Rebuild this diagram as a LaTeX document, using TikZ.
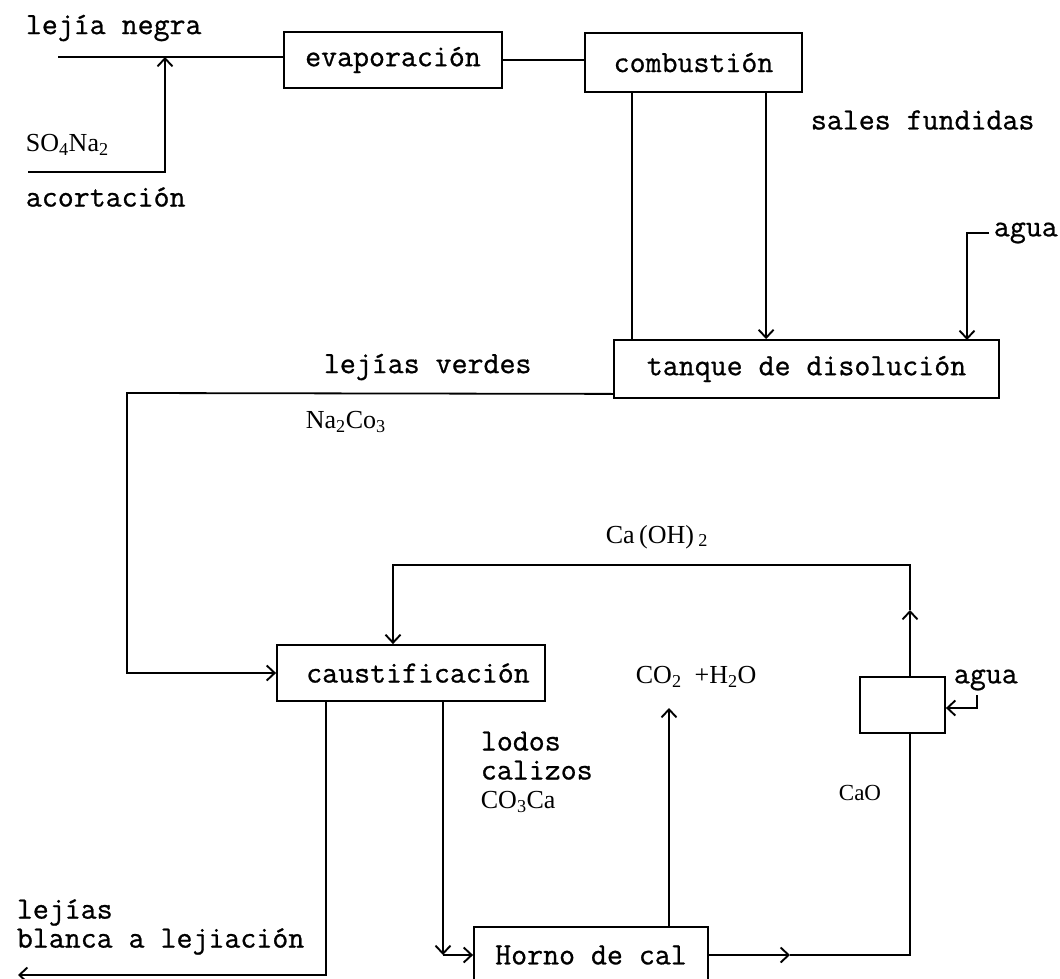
\documentclass[tikz,border=0pt]{standalone}
\usepackage{fontspec}
\setmainfont{Liberation Serif}
\newfontfamily\tw{Latin Modern Mono}[FakeBold=0.8]
\usetikzlibrary{arrows.meta,calc}
\begin{document}
\begin{tikzpicture}[x=1pt,y=-1pt,line width=1.8pt,
  box/.style={draw, inner sep=0pt, font=\fontsize{31}{27}\selectfont\tw},
  lbl/.style={anchor=west, inner sep=0pt, align=left, font=\fontsize{31}{29}\selectfont\tw},
  chem/.style={anchor=west, inner sep=0pt, font=\fontsize{26}{28}\selectfont},
  arr/.style={-{Straight Barb[length=8pt,width=15pt,line width=1.9pt]}},
]
\useasboundingbox (0,0) rectangle (1060,979);

% boxes
\node[box, minimum width=218pt, minimum height=56pt] (evap) at (393,60) {evaporación};
\node[box, minimum width=217pt, minimum height=59pt] (comb) at (693.5,62.5) {combustión};
\node[box, minimum width=385pt, minimum height=58pt] (tanque) at (806.5,369) {tanque de disolución};
\node[box, minimum width=268pt, minimum height=56pt] (caust) at (411,673) {\hspace*{14pt}caustificación};
\node[box, minimum width=85pt, minimum height=56pt] (small) at (902.5,705) {};
\node[box, minimum width=234pt, minimum height=56pt] (horno) at (591,955) {Horno de cal};

% labels
\node[lbl] (ln) at (25,28) {lejía negra};
\node[chem] (so4) at (25,145) {SO\textsubscript{4}Na\textsubscript{2}};
\node[lbl] (acort) at (25,197) {acortación};
\node[lbl] (sales) at (810,120) {sales fundidas};
\node[lbl] (agua1) at (993,233) {agua};
\node[lbl] (lverdes) at (323,367) {lejías verdes};
\node[chem] (na2) at (305,422) {Na\textsubscript{2}Co\textsubscript{3}};
\node[chem] (caoh) at (605,537) {Ca\,(OH)\,\textsubscript{2}};
\node[chem] (co2) at (635,677) {CO\textsubscript{2}\ \ +H\textsubscript{2}O};
\node[lbl] (agua2) at (953,680) {agua};
\node[lbl] (lodos) at (480,772) {lodos\\calizos\\{\rmfamily\fontsize{26}{28}\selectfont CO\textsubscript{3}Ca}};
\node[chem, font=\fontsize{23}{26}\selectfont] (cao) at (838,793) {CaO};
\node[lbl] (lej) at (16,927) {lejías\\blanca a lejiación};

% coordinates
\coordinate (lnstart) at (58,57);
\coordinate (sostart) at (28,172);
\coordinate (sotip) at (165,57);
\coordinate (c1) at ([xshift=48pt]comb.south west);
\coordinate (c2) at ([xshift=182pt]comb.south west);
\coordinate (a1) at (967,340);
\coordinate (lvs) at ([yshift=5pt]tanque.south west);
\coordinate (lv) at (127,393);
\coordinate (sn) at ([xshift=7.5pt]small.north);
\coordinate (m1) at (910,610);
\coordinate (chtop) at (910,565);
\coordinate (cn) at ([xshift=-18pt]caust.north);
\coordinate (cw) at ([xshift=-85pt]caust.south);
\coordinate (lbend) at (18,975);
\coordinate (ce) at ([xshift=32pt]caust.south);
\coordinate (hc) at (443,955);
\coordinate (ht) at ([xshift=78pt]horno.north);
\coordinate (co2tip) at (669,708);
\coordinate (hm) at (790,955);
\coordinate (sb) at ([xshift=7.5pt]small.south);
\coordinate (a2) at (977,695);

% connectors
\draw (lnstart) -- (lnstart -| evap.west);
\draw[arr] (sostart) -| (sotip);
\draw (evap.east) -- (evap.east -| comb.west);
\draw (c1) -- (c1 |- tanque.north);
\draw[arr] (c2) -- (c2 |- tanque.north);
\draw[arr] ([xshift=-4pt]agua1.west) -| (a1);
\draw[arr] (lvs) -- (lv) |- (caust.west);
\draw[arr] (sn) -- (m1);
\draw[arr] (m1) -- (chtop) -| (cn);
\draw[arr] (cw) |- (lbend);
\draw[arr] (ce) -- (hc);
\draw[arr] (hc) -- (horno.west);
\draw[arr] (ht) -- (co2tip);
\draw[arr] (horno.east) -- (hm);
\draw (hm) -| (sb);
\draw[arr] (a2) |- ([yshift=-3pt]small.east);
\end{tikzpicture}
\end{document}
